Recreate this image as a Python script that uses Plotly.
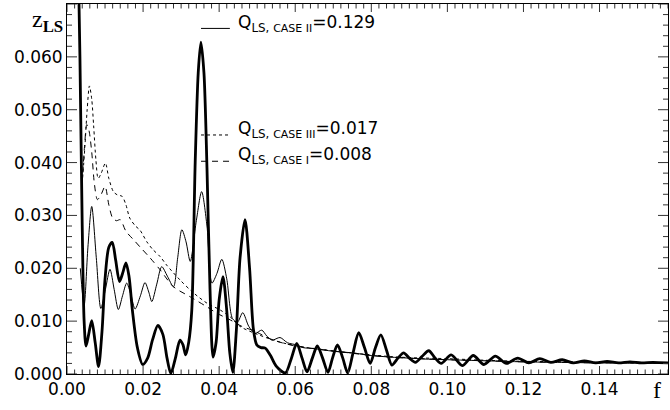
import plotly.graph_objects as go

# ---------------- data ----------------
f_thick = [0.0028, 0.0034, 0.0040, 0.0045, 0.0050, 0.0057, 0.0065, 0.0074, 0.0083, 0.0092,
           0.0100, 0.0110, 0.0119, 0.0128, 0.0138, 0.0146, 0.0155, 0.0163, 0.0172, 0.0185,
           0.0199, 0.0212, 0.0225, 0.0239, 0.0252, 0.0263, 0.0273, 0.0285, 0.0297, 0.0305,
           0.0312, 0.0320, 0.0328, 0.0337, 0.0345, 0.0352, 0.0360, 0.0368, 0.0376, 0.0384,
           0.0392, 0.0400, 0.0410, 0.0420, 0.0428, 0.0436, 0.0445, 0.0455, 0.0468, 0.0480,
           0.0490, 0.0499, 0.0510, 0.0521, 0.0535, 0.0550, 0.0574, 0.0590, 0.0604, 0.0618,
           0.0631, 0.0645, 0.0658, 0.0672, 0.0686, 0.0698, 0.0711, 0.0725, 0.0738, 0.0752,
           0.0767, 0.0782, 0.0797, 0.0811, 0.0825, 0.0840, 0.0854, 0.0870, 0.0885, 0.0900,
           0.0916, 0.0933, 0.0951, 0.0968, 0.0984, 0.1010, 0.1039, 0.1068, 0.1096, 0.1126,
           0.1155, 0.1185, 0.1214, 0.1243, 0.1272, 0.1302, 0.1331, 0.1360, 0.1390, 0.1420,
           0.1450, 0.1480, 0.1510, 0.1540, 0.1580]
z_thick = [0.0850, 0.0600, 0.0280, 0.0100, 0.0053, 0.0075, 0.0101, 0.0060, 0.0014, 0.0080,
           0.0180, 0.0240, 0.0249, 0.0215, 0.0175, 0.0190, 0.0210, 0.0185, 0.0120, 0.0050,
           0.0018, 0.0030, 0.0065, 0.0092, 0.0075, 0.0030, 0.0001, 0.0030, 0.0064, 0.0055,
           0.0036, 0.0060, 0.0120, 0.0400, 0.0570, 0.0628, 0.0570, 0.0390, 0.0160, 0.0032,
           0.0060, 0.0140, 0.0184, 0.0120, 0.0040, 0.0003, 0.0080, 0.0220, 0.0292, 0.0200,
           0.0085, 0.0055, 0.0050, 0.0049, 0.0035, 0.0015, 0.0002, 0.0030, 0.0058, 0.0030,
           0.0004, 0.0030, 0.0053, 0.0030, 0.0003, 0.0030, 0.0055, 0.0030, 0.0002, 0.0040,
           0.0078, 0.0050, 0.0020, 0.0050, 0.0074, 0.0045, 0.0017, 0.0030, 0.0040, 0.0030,
           0.0022, 0.0033, 0.0044, 0.0030, 0.0020, 0.0036, 0.0016, 0.0035, 0.0018, 0.0034,
           0.0020, 0.0030, 0.0021, 0.0029, 0.0022, 0.0027, 0.0021, 0.0025, 0.0021, 0.0024,
           0.0021, 0.0023, 0.0021, 0.0022, 0.0021]

f_thin = [0.0035, 0.0045, 0.0055, 0.0065, 0.0077, 0.0089, 0.0101, 0.0113, 0.0124, 0.0135,
          0.0146, 0.0157, 0.0168, 0.0179, 0.0193, 0.0205, 0.0215, 0.0223, 0.0236, 0.0249,
          0.0264, 0.0280, 0.0291, 0.0302, 0.0313, 0.0324, 0.0340, 0.0354, 0.0368, 0.0381,
          0.0394, 0.0407, 0.0420, 0.0435, 0.0448, 0.0462, 0.0478, 0.0495, 0.0512, 0.0525,
          0.0539, 0.0560, 0.0580, 0.0604, 0.0620, 0.0650, 0.0700, 0.0750, 0.0800, 0.0850,
          0.0900, 0.0950, 0.1000, 0.1100, 0.1200, 0.1300, 0.1400, 0.1500, 0.1580]
z_thin = [0.0200, 0.0130, 0.0240, 0.0317, 0.0220, 0.0124, 0.0160, 0.0198, 0.0160, 0.0122,
          0.0148, 0.0172, 0.0150, 0.0123, 0.0148, 0.0173, 0.0155, 0.0137, 0.0170, 0.0203,
          0.0185, 0.0165, 0.0220, 0.0273, 0.0250, 0.0213, 0.0290, 0.0345, 0.0280, 0.0172,
          0.0190, 0.0217, 0.0180, 0.0105, 0.0098, 0.0116, 0.0090, 0.0077, 0.0083, 0.0072,
          0.0064, 0.0069, 0.0059, 0.0055, 0.0050, 0.0048, 0.0043, 0.0040, 0.0035, 0.0032,
          0.0030, 0.0028, 0.0027, 0.0025, 0.0023, 0.0022, 0.0021, 0.0021, 0.0020]

f_dot = [0.0040, 0.0047, 0.0053, 0.0059, 0.0065, 0.0070, 0.0076, 0.0082, 0.0090, 0.0101,
         0.0110, 0.0122, 0.0132, 0.0145, 0.0155, 0.0165, 0.0180, 0.0192, 0.0210, 0.0225,
         0.0245, 0.0262, 0.0297, 0.0330, 0.0368, 0.0403, 0.0429, 0.0455, 0.0490, 0.0543,
         0.0578, 0.0631, 0.0666, 0.0718, 0.0789, 0.0850, 0.0900, 0.1000, 0.1100, 0.1200,
         0.1300, 0.1400, 0.1500, 0.1580]
z_dot = [0.0360, 0.0430, 0.0500, 0.0545, 0.0520, 0.0470, 0.0405, 0.0370, 0.0380, 0.0399,
         0.0370, 0.0345, 0.0339, 0.0336, 0.0320, 0.0295, 0.0280, 0.0272, 0.0250, 0.0236,
         0.0222, 0.0206, 0.0178, 0.0155, 0.0134, 0.0121, 0.0108, 0.0090, 0.0078, 0.0064,
         0.0057, 0.0050, 0.0047, 0.0042, 0.0037, 0.0033, 0.0031, 0.0029, 0.0026, 0.0024,
         0.0023, 0.0022, 0.0021, 0.0021]

f_dash = [0.0040, 0.0046, 0.0052, 0.0058, 0.0065, 0.0072, 0.0080, 0.0090, 0.0100, 0.0110,
          0.0120, 0.0130, 0.0140, 0.0155, 0.0175, 0.0195, 0.0218, 0.0245, 0.0280, 0.0324,
          0.0368, 0.0394, 0.0430, 0.0460, 0.0490, 0.0543, 0.0600, 0.0660, 0.0718, 0.0789,
          0.0850, 0.0900, 0.1000, 0.1100, 0.1200, 0.1300, 0.1400, 0.1500, 0.1580]
z_dash = [0.0360, 0.0430, 0.0472, 0.0460, 0.0420, 0.0360, 0.0330, 0.0340, 0.0355, 0.0320,
          0.0295, 0.0290, 0.0292, 0.0270, 0.0254, 0.0238, 0.0220, 0.0197, 0.0165, 0.0146,
          0.0127, 0.0115, 0.0102, 0.0090, 0.0082, 0.0064, 0.0053, 0.0047, 0.0042, 0.0036,
          0.0032, 0.0030, 0.0027, 0.0025, 0.0023, 0.0022, 0.0021, 0.0021, 0.0020]

x_tick_labels = ["0.00", "0.02", "0.04", "0.06", "0.08", "0.10", "0.12", "0.14"]
y_tick_labels = ["0.000", "0.010", "0.020", "0.030", "0.040", "0.050", "0.060"]
x_major = [0.02 * i for i in range(8)]
x_minor = [0.002 * i for i in range(80)]
y_major = [0.01 * i for i in range(8)]
y_minor = [0.002 * i for i in range(36)]

legend_labels = [
    ("Q<sub>LS, <span style='font-size:11px'>CASE II</span></sub>=0.129", "solid"),
    ("Q<sub>LS, <span style='font-size:11px'>CASE III</span></sub>=0.017", "dot"),
    ("Q<sub>LS, <span style='font-size:11px'>CASE I</span></sub>=0.008", "dash"),
]

X_RANGE = [0, 0.158]
Y_RANGE = [0, 0.070]
PLOT_W, PLOT_H = 601, 370  # plot-area size in px (670 - 67 - 2, 410 - 4 - 36)

# ---------------- figure ----------------
fig = go.Figure()
fig.add_trace(go.Scatter(x=f_dot, y=z_dot, mode="lines",
                         line=dict(color="black", width=1, dash="dot", shape="spline", smoothing=0.8)))
fig.add_trace(go.Scatter(x=f_dash, y=z_dash, mode="lines",
                         line=dict(color="black", width=1, dash="6px,5px", shape="spline", smoothing=0.8)))
fig.add_trace(go.Scatter(x=f_thin, y=z_thin, mode="lines",
                         line=dict(color="black", width=1, shape="spline", smoothing=0.8)))
fig.add_trace(go.Scatter(x=f_thick, y=z_thick, mode="lines",
                         line=dict(color="black", width=2.8, shape="spline", smoothing=0.8)))

# inward tick marks on all four sides, built from the tick values (px length -> data units)
dy_per_px = (Y_RANGE[1] - Y_RANGE[0]) / PLOT_H
dx_per_px = (X_RANGE[1] - X_RANGE[0]) / PLOT_W
tx, ty = [], []
for v in x_minor:
    if v > X_RANGE[1]:
        continue
    major = any(abs(v - m) < 1e-9 for m in x_major)
    L = (8 if major else 4.5) * dy_per_px
    tx += [v, v, None, v, v, None]
    ty += [Y_RANGE[0], Y_RANGE[0] + L, None, Y_RANGE[1], Y_RANGE[1] - L, None]
for v in y_minor:
    if v > Y_RANGE[1]:
        continue
    major = any(abs(v - m) < 1e-9 for m in y_major)
    L = (10 if major else 5) * dx_per_px
    tx += [X_RANGE[0], X_RANGE[0] + L, None, X_RANGE[1], X_RANGE[1] - L, None]
    ty += [v, v, None, v, v, None]
fig.add_trace(go.Scatter(x=tx, y=ty, mode="lines", hoverinfo="skip", connectgaps=False,
                         line=dict(color="#333333", width=1)))

tickfont = dict(family="DejaVu Sans", size=17, color="black")

fig.update_layout(
    xaxis=dict(range=X_RANGE, tickmode="array", tickvals=x_major[:len(x_tick_labels)],
               ticktext=x_tick_labels, showline=True, linecolor="black", linewidth=1,
               mirror=True, ticks="", showgrid=False, zeroline=False, tickfont=tickfont),
    yaxis=dict(range=Y_RANGE, tickmode="array", tickvals=y_major[:len(y_tick_labels)],
               ticktext=y_tick_labels, showline=True, linecolor="black", linewidth=1,
               mirror=True, ticks="", showgrid=False, zeroline=False, tickfont=tickfont),
)

# legend-like line samples and labels
y_pos = [0.934, 0.646, 0.575]
txt_pos = [0.948, 0.662, 0.590]
for (lab, dsh), yp, tp in zip(legend_labels, y_pos, txt_pos):
    fig.add_shape(type="line", xref="paper", yref="paper", x0=0.223, x1=0.271, y0=yp, y1=yp,
                  line=dict(color="black", width=1, dash=dsh if dsh != "dash" else "6px,5px"))
    fig.add_annotation(xref="paper", yref="paper", x=0.281, y=tp, xanchor="left", yanchor="middle",
                       text=lab, showarrow=False, font=dict(family="DejaVu Sans", size=17, color="black"))

fig.add_annotation(xref="paper", yref="paper", x=-0.032, y=0.955, xanchor="center", yanchor="middle",
                   text="z<sub><b>LS</b></sub>", showarrow=False,
                   font=dict(family="Liberation Serif", size=24, color="black"))
fig.add_annotation(xref="paper", yref="paper", x=0.982, y=-0.043, xanchor="center", yanchor="middle",
                   text="f", showarrow=False,
                   font=dict(family="Liberation Serif", size=24, color="black"))

fig.update_layout(width=670, height=410, margin=dict(l=67, r=2, t=4, b=36),
                  paper_bgcolor="white", plot_bgcolor="white", showlegend=False)

fig.write_html("out.html")
